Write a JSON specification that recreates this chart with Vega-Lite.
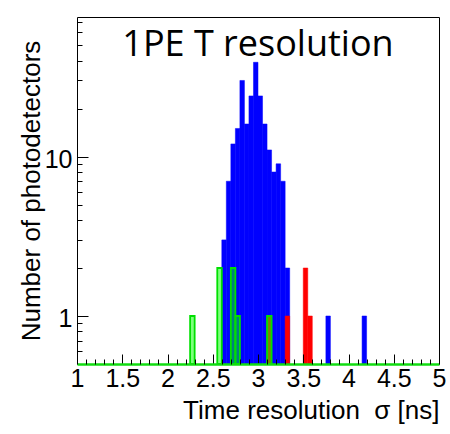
{
  "$schema": "https://vega.github.io/schema/vega-lite/v6.json",
  "width": 362,
  "height": 347,
  "autosize": {"type": "none"},
  "padding": {"left": 77, "top": 17, "right": 11, "bottom": 70},
  "background": "white",
  "config": {"view": {"stroke": null}},
  "title": {
    "text": "1PE T resolution",
    "font": "Open Sans",
    "fontSize": 36,
    "fontWeight": "normal",
    "color": "black",
    "anchor": "middle",
    "frame": "group",
    "baseline": "alphabetic",
    "offset": -39,
    "dy": 36
  },
  "data": {
    "values": [
      {"s": "blue", "lo": 2.60, "hi": 2.65, "n": 3},
      {"s": "blue", "lo": 2.65, "hi": 2.70, "n": 7},
      {"s": "blue", "lo": 2.70, "hi": 2.75, "n": 12},
      {"s": "blue", "lo": 2.75, "hi": 2.80, "n": 15},
      {"s": "blue", "lo": 2.80, "hi": 2.85, "n": 30},
      {"s": "blue", "lo": 2.85, "hi": 2.90, "n": 16},
      {"s": "blue", "lo": 2.90, "hi": 2.95, "n": 24},
      {"s": "blue", "lo": 2.95, "hi": 3.00, "n": 39},
      {"s": "blue", "lo": 3.00, "hi": 3.05, "n": 24},
      {"s": "blue", "lo": 3.05, "hi": 3.10, "n": 16},
      {"s": "blue", "lo": 3.10, "hi": 3.15, "n": 11},
      {"s": "blue", "lo": 3.15, "hi": 3.20, "n": 8},
      {"s": "blue", "lo": 3.20, "hi": 3.25, "n": 9},
      {"s": "blue", "lo": 3.25, "hi": 3.30, "n": 7},
      {"s": "blue", "lo": 3.30, "hi": 3.35, "n": 2},
      {"s": "blue", "lo": 3.75, "hi": 3.80, "n": 1},
      {"s": "blue", "lo": 4.15, "hi": 4.20, "n": 1},
      {"s": "red", "lo": 3.10, "hi": 3.15, "n": 1},
      {"s": "red", "lo": 3.30, "hi": 3.35, "n": 1},
      {"s": "red", "lo": 3.50, "hi": 3.55, "n": 2},
      {"s": "red", "lo": 3.55, "hi": 3.60, "n": 1},
      {"s": "green", "lo": 2.25, "hi": 2.30, "n": 1},
      {"s": "green", "lo": 2.55, "hi": 2.60, "n": 2},
      {"s": "green", "lo": 2.70, "hi": 2.75, "n": 2},
      {"s": "green", "lo": 2.75, "hi": 2.80, "n": 1},
      {"s": "green", "lo": 3.10, "hi": 3.15, "n": 1}
    ]
  },
  "resolve": {"axis": {"x": "independent", "y": "independent"}, "scale": {"x": "shared", "y": "shared"}},
  "layer": [
    {
      "transform": [{"filter": "datum.s === 'blue'"}],
      "mark": {"type": "bar", "color": "#0000ff", "stroke": "#0000ff", "strokeWidth": 0.5},
      "encoding": {
        "x": {
          "field": "lo", "type": "quantitative",
          "scale": {"domain": [1, 5], "nice": false, "zero": false},
          "axis": {
            "orient": "bottom", "values": [1, 1.5, 2, 2.5, 3, 3.5, 4, 4.5, 5], "format": "~g",
            "tickSize": -10, "tickColor": "black", "tickWidth": 1,
            "labelFont": "Liberation Sans, Arial, Helvetica, sans-serif", "labelFontSize": 25, "labelColor": "black",
            "labelPadding": 32, "labelBaseline": "alphabetic", "labelFlush": false, "labelOverlap": false,
            "domainColor": "#11dd11", "domainWidth": 2.5,
            "grid": false, "zindex": 1,
            "title": "Time resolution \u00a0σ [ns]", "titleFont": "Liberation Sans, Arial, Helvetica, sans-serif", "titleFontSize": 26,
            "titleFontWeight": "normal", "titleColor": "black", "titleAnchor": "end", "titlePadding": 6
          }
        },
        "x2": {"field": "hi"},
        "y": {
          "field": "n", "type": "quantitative",
          "scale": {"type": "log", "domain": [0.5, 75], "nice": false},
          "axis": {
            "orient": "left", "values": [1, 10], "format": "~g",
            "tickSize": -11, "tickColor": "black", "tickWidth": 1,
            "labelFont": "Liberation Sans, Arial, Helvetica, sans-serif", "labelFontSize": 25, "labelColor": "black",
            "labelPadding": 16, "labelBaseline": "alphabetic", "labelOffset": 11, "labelFlush": false,
            "domainColor": "black", "domainWidth": 1,
            "grid": false, "zindex": 1,
            "title": "Number of photodetectors", "titleFont": "Liberation Sans, Arial, Helvetica, sans-serif", "titleFontSize": 26,
            "titleFontWeight": "normal", "titleColor": "black", "titleAnchor": "middle", "titlePadding": 0
          }
        },
        "y2": {"datum": 0.5}
      }
    },
    {
      "transform": [{"filter": "datum.s === 'red'"}],
      "mark": {"type": "bar", "color": "#ff0000", "stroke": "#ff0000", "strokeWidth": 0.5},
      "encoding": {
        "x": {
          "field": "lo", "type": "quantitative",
          "scale": {"domain": [1, 5], "nice": false, "zero": false},
          "axis": {
            "orient": "bottom",
            "values": [1.1, 1.2, 1.3, 1.4, 1.6, 1.7, 1.8, 1.9, 2.1, 2.2, 2.3, 2.4, 2.6, 2.7, 2.8, 2.9, 3.1, 3.2, 3.3, 3.4, 3.6, 3.7, 3.8, 3.9, 4.1, 4.2, 4.3, 4.4, 4.6, 4.7, 4.8, 4.9],
            "tickSize": -5, "tickColor": "black", "tickWidth": 1,
            "labels": false, "domain": false, "grid": false, "zindex": 1, "title": null
          }
        },
        "x2": {"field": "hi"},
        "y": {
          "field": "n", "type": "quantitative",
          "scale": {"type": "log", "domain": [0.5, 75], "nice": false},
          "axis": {
            "orient": "left",
            "values": [0.6, 0.7, 0.8, 0.9, 2, 3, 4, 5, 6, 7, 8, 9, 20, 30, 40, 50, 60, 70],
            "tickSize": -5, "tickColor": "black", "tickWidth": 1,
            "labels": false, "domain": false, "grid": false, "zindex": 1, "title": null
          }
        },
        "y2": {"datum": 0.5}
      }
    },
    {
      "transform": [{"filter": "datum.s === 'green'"}],
      "mark": {"type": "bar", "fill": "#00ff00", "fillOpacity": 0.5, "stroke": "#00e000", "strokeWidth": 1.8},
      "encoding": {
        "x": {
          "field": "lo", "type": "quantitative",
          "scale": {"domain": [1, 5], "nice": false, "zero": false},
          "axis": {
            "orient": "top", "ticks": false, "labels": false, "domain": true,
            "domainColor": "black", "domainWidth": 1, "grid": false, "zindex": 1, "title": null
          }
        },
        "x2": {"field": "hi"},
        "y": {
          "field": "n", "type": "quantitative",
          "scale": {"type": "log", "domain": [0.5, 75], "nice": false},
          "axis": {
            "orient": "right", "ticks": false, "labels": false, "domain": true,
            "domainColor": "black", "domainWidth": 1, "grid": false, "zindex": 1, "title": null
          }
        },
        "y2": {"datum": 0.5}
      }
    }
  ]
}
